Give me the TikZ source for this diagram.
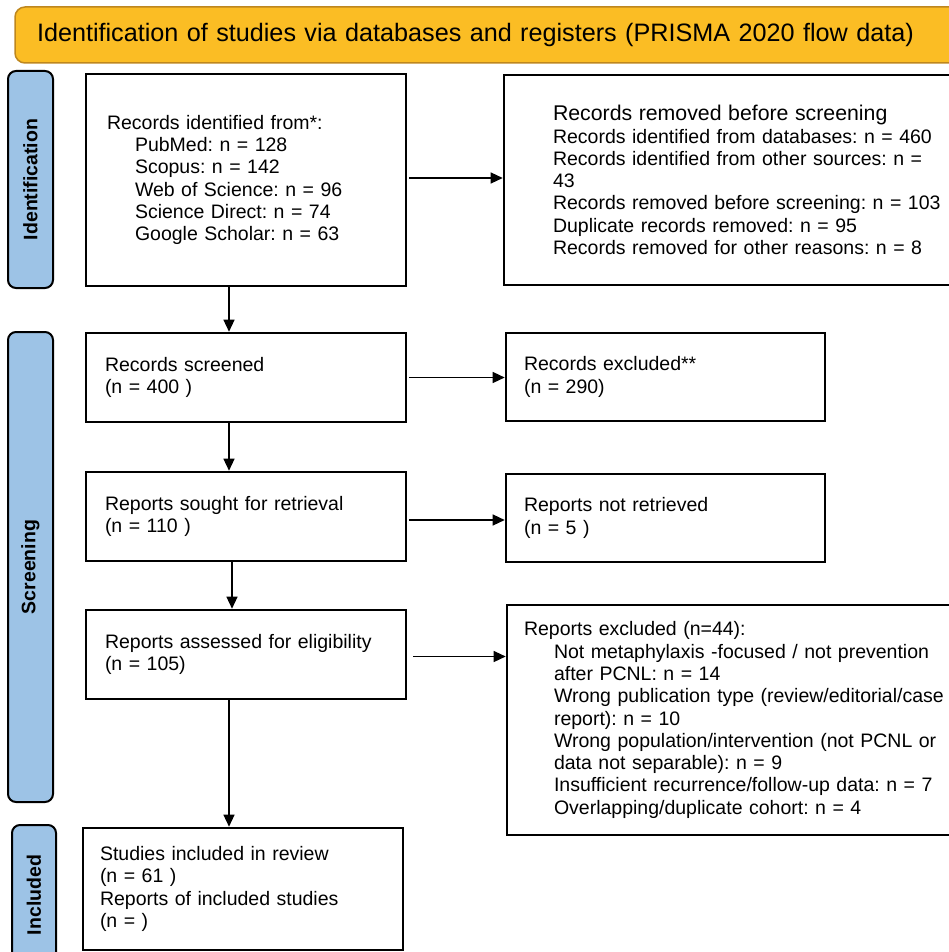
\documentclass[tikz,border=0pt]{standalone}
\usepackage{fontspec}
\setmainfont{Liberation Sans}
\usetikzlibrary{arrows.meta,calc}
\definecolor{hdrfill}{RGB}{251,189,36}
\definecolor{hdrline}{RGB}{190,135,30}
\definecolor{sidefill}{RGB}{157,195,230}
\frenchspacing
\begin{document}
\begin{tikzpicture}[x=1pt,y=-1pt,
  box/.style={draw=black,line width=2.6pt,align=left,inner ysep=0pt,
    font=\frenchspacing\fontsize{19.5}{22.3}\selectfont},
  side/.style={draw=black,line width=2pt,fill=sidefill,rounded corners=8pt,
    rotate=90,inner sep=0pt,font=\bfseries\fontsize{19.5}{22}\selectfont},
  hdr/.style={draw=hdrline,line width=1.5pt,fill=hdrfill,rounded corners=10pt,
    align=left,inner xsep=22pt,font=\fontsize{25.2}{28}\selectfont},
  arr/.style={line width=1.3pt,-{Triangle[length=12pt,width=11pt]}}]
\useasboundingbox (0,0) rectangle (949,952);
\clip (0,0) rectangle (949,952);

% header
\node[hdr,minimum width=945pt,minimum height=56pt,text width=901pt] (H) at (487.5,35)
  {Identification of studies via databases and registers (PRISMA 2020 flow data)};

% side bars
\node[side,minimum width=217pt,minimum height=45pt] (S1) at (30.5,179.5) {Identification};
\node[side,minimum width=470pt,minimum height=45pt] (S2) at (30.5,567) {Screening};
\node[side,minimum width=140pt,minimum height=44pt] (S3) at (34,895) {Included};

% boxes
\node[box,minimum width=320pt,minimum height=212pt,inner xsep=21pt,text width=278pt] (B1) at (246,180)
  {Records identified from*:\\
   \hspace*{28pt}PubMed: n = 128\\
   \hspace*{28pt}Scopus: n = 142\\
   \hspace*{28pt}Web of Science: n = 96\\
   \hspace*{28pt}Science Direct: n = 74\\
   \hspace*{28pt}Google Scholar: n = 63};

\node[box,minimum width=498pt,minimum height=210pt,inner xsep=49pt,text width=400pt] (B2) at (753,180)
  {{\fontsize{21.3}{23}\selectfont Records removed before screening}\\
   Records identified from databases: n = 460\\
   Records identified from other sources: n =\\
   43\\
   Records removed before screening: n = 103\\
   Duplicate records removed: n = 95\\
   Records removed for other reasons: n = 8};

\node[box,minimum width=320pt,minimum height=89pt,inner xsep=19pt,text width=282pt] (B3) at (246,377.5)
  {Records screened\\(n = 400 )};
\node[box,minimum width=319pt,minimum height=88pt,inner xsep=18pt,text width=283pt] (B4) at (665.5,377)
  {Records excluded**\\(n = 290)};

\node[box,minimum width=320pt,minimum height=89pt,inner xsep=19pt,text width=282pt] (B5) at (246,516.5)
  {Reports sought for retrieval\\(n = 110 )};
\node[box,minimum width=319pt,minimum height=88pt,inner xsep=18pt,text width=283pt] (B6) at (665.5,518)
  {Reports not retrieved\\(n = 5 )};

\node[box,minimum width=320pt,minimum height=89pt,inner xsep=19pt,text width=282pt] (B7) at (246,654.5)
  {Reports assessed for eligibility\\(n = 105)};
\node[box,minimum width=464pt,minimum height=230pt,inner xsep=17pt,text width=430pt] (B8) at (739,720)
  {Reports excluded (n=44):\\
   \hspace*{30pt}Not metaphylaxis -focused / not prevention\\
   \hspace*{30pt}after PCNL: n = 14\\
   \hspace*{30pt}Wrong publication type (review/editorial/case\\
   \hspace*{30pt}report): n = 10\\
   \hspace*{30pt}Wrong population/intervention (not PCNL or\\
   \hspace*{30pt}data not separable): n = 9\\
   \hspace*{30pt}Insufficient recurrence/follow-up data: n = 7\\
   \hspace*{30pt}Overlapping/duplicate cohort: n = 4};

\node[box,minimum width=320pt,minimum height=122pt,inner xsep=17pt,text width=286pt] (B9) at (243,889)
  {Studies included in review\\(n = 61 )\\Reports of included studies\\(n = )};

% vertical arrows
\draw[arr] ([xshift=-17pt]B1.south) -- ([xshift=-17pt]B1.south |- B3.north);
\draw[arr] ([xshift=-17pt]B3.south) -- ([xshift=-17pt]B3.south |- B5.north);
\draw[arr] ([xshift=-14pt]B5.south) -- ([xshift=-14pt]B5.south |- B7.north);
\draw[arr] ([xshift=-17pt]B7.south) -- ([xshift=-17pt]B7.south |- B9.north);

% horizontal arrows
\draw[arr] ([xshift=2pt,yshift=2pt]B1.east) -- ([yshift=2pt]B1.east -| B2.west);
\draw[arr] ([xshift=2pt]B3.east) -- (B3.east -| B4.west);
\draw[arr] ([xshift=2pt,yshift=-3.5pt]B5.east) -- ([yshift=-3.5pt]B5.east -| B6.west);
\draw[arr] ([xshift=6pt,yshift=-2pt]B7.east) -- ([yshift=-2pt]B7.east -| B8.west);
\end{tikzpicture}
\end{document}
